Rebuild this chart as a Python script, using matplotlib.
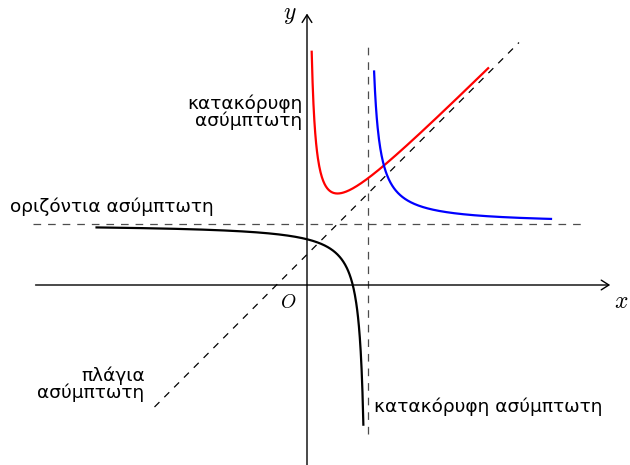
import numpy as np
import matplotlib
matplotlib.use("Agg")
import matplotlib.pyplot as plt

plt.rcParams['mathtext.fontset'] = 'cm'
plt.rcParams['lines.scale_dashes'] = False

# Curve parameters (asymptotes and coefficients)
red_coef = 0.25          # y = x + 0.5 + a/x
red_x_range = [0.077, 2.97]
blue_coef = 0.25         # y = 1 + b/(x - 1)
blue_x_range = [1.1, 4.0]
black_coef = 0.25        # y = 1 - c/(1 - x)
black_x_range = [-3.45, 0.924]

# Asymptotes
horiz_y = 1.0
horiz_x_range = [-4.5, 4.5]
vert_x = 1.0
vert_y_range = [-2.45, 3.95]
oblique_slope = 1.0
oblique_icpt = 0.5
oblique_x_range = [-2.5, 3.475]

# Axis extents
x_axis_range = [-4.45, 4.97]
y_axis_range = [-3.1, 4.45]

# Labels
label_horiz = "οριζόντια ασύμπτωτη"
label_vert_top = "κατακόρυφη\nασύμπτωτη"
label_oblique = "πλάγια\nασύμπτωτη"
label_vert_bottom = "κατακόρυφη ασύμπτωτη"

# Figure: origin at pixel (307, 285), 61 px per unit
W, H = 630, 465
ox, oy, unit = 307, 285, 61.0
fig = plt.figure(figsize=(W / 100, H / 100), dpi=100)
ax = fig.add_axes([0, 0, 1, 1])
ax.set_xlim(-ox / unit, (W - ox) / unit)
ax.set_ylim(-(H - oy) / unit, oy / unit)
ax.axis('off')

# Axes with arrows
arrow = dict(arrowstyle='->, head_length=0.55, head_width=0.35', lw=1.0, color='black',
             shrinkA=0, shrinkB=0, mutation_scale=10)
ax.annotate('', xy=(x_axis_range[1], 0), xytext=(x_axis_range[0], 0), arrowprops=arrow)
ax.annotate('', xy=(0, y_axis_range[1]), xytext=(0, y_axis_range[0]), arrowprops=arrow)

# Dashed asymptotes
dash = (0, (5.5, 5.0))
ax.plot(horiz_x_range, [horiz_y, horiz_y], color='0.3', lw=0.9, linestyle=dash)
ax.plot([vert_x, vert_x], vert_y_range, color='0.3', lw=0.9, linestyle=dash)
xo = np.array(oblique_x_range)
ax.plot(xo, oblique_slope * xo + oblique_icpt, color='black', lw=0.9, linestyle=(0, (5.0, 5.0)))

# Curves
x = np.linspace(red_x_range[0], red_x_range[1], 400)
ax.plot(x, x + 0.5 + red_coef / x, color='red', lw=1.6)

x = np.linspace(blue_x_range[0], blue_x_range[1], 400)
ax.plot(x, 1 + blue_coef / (x - 1), color='blue', lw=1.6)

x = np.linspace(black_x_range[0], black_x_range[1], 600)
ax.plot(x, 1 - black_coef / (1 - x), color='black', lw=1.6)

# Text
tfont = dict(family='DejaVu Sans', fontsize=13.3)
ax.text(-4.87, 1.28, label_horiz, ha='left', va='center', **tfont)
ax.text(-0.07, 2.83, label_vert_top, ha='right', va='center', multialignment='right',
        linespacing=0.9, **tfont)
ax.text(-2.66, -1.62, label_oblique, ha='right', va='center', multialignment='right',
        linespacing=0.9, **tfont)
ax.text(1.10, -2.0, label_vert_bottom, ha='left', va='center', **tfont)

ax.text(-0.28, 4.44, '$y$', ha='center', va='center', fontsize=17)
ax.text(5.15, -0.27, '$x$', ha='center', va='center', fontsize=17)
ax.text(-0.31, -0.29, '$O$', ha='center', va='center', fontsize=14)

plt.savefig('out.png', dpi=100)
